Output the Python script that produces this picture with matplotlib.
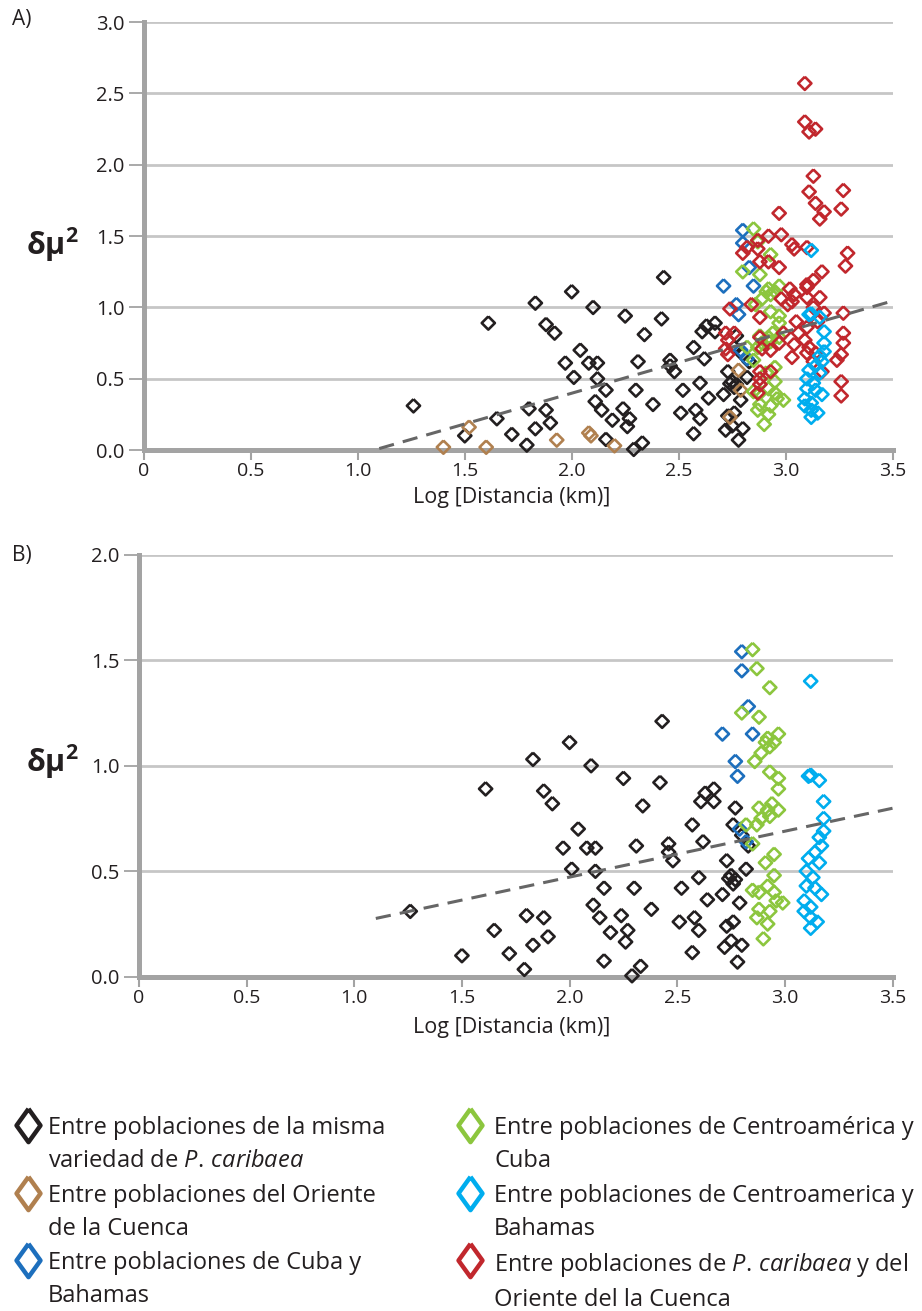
import numpy as np
import matplotlib
matplotlib.use('Agg')
import matplotlib.pyplot as plt
from matplotlib.lines import Line2D

plt.rcParams['font.family'] = ['Open Sans', 'DejaVu Sans']
plt.rcParams['mathtext.fontset'] = 'custom'
plt.rcParams['mathtext.rm'] = 'Open Sans'
plt.rcParams['mathtext.it'] = 'Open Sans:italic'
plt.rcParams['mathtext.bf'] = 'Open Sans:bold'

# ---- data: (log distance, delta mu^2) ----
black_x = [1.26, 1.50, 1.61, 1.65, 1.72, 1.79, 1.80, 1.83, 1.83, 1.88, 1.88, 1.90, 1.92,
           1.97, 2.00, 2.01, 2.04, 2.08, 2.10, 2.11, 2.12, 2.12, 2.14, 2.16, 2.16, 2.19,
           2.24, 2.25, 2.26, 2.27, 2.29, 2.30, 2.31, 2.33, 2.34, 2.38, 2.43, 2.42, 2.46,
           2.48, 2.46, 2.51, 2.52, 2.57, 2.57, 2.58, 2.60, 2.61, 2.60, 2.62, 2.64, 2.63,
           2.67, 2.67, 2.71, 2.72, 2.73, 2.73, 2.75, 2.76, 2.76, 2.77, 2.74, 2.77, 2.78,
           2.79, 2.80, 2.80, 2.82, 2.83, 2.76, 2.75]
black_y = [0.31, 0.10, 0.89, 0.22, 0.11, 0.035, 0.29, 1.03, 0.15, 0.88, 0.28, 0.19, 0.82,
           0.61, 1.11, 0.51, 0.70, 0.61, 1.00, 0.34, 0.61, 0.50, 0.28, 0.42, 0.075, 0.21,
           0.29, 0.94, 0.165, 0.22, 0.005, 0.42, 0.62, 0.05, 0.81, 0.32, 1.21, 0.92, 0.63,
           0.55, 0.59, 0.26, 0.42, 0.72, 0.115, 0.28, 0.47, 0.83, 0.22, 0.64, 0.365, 0.87,
           0.89, 0.83, 0.39, 0.14, 0.55, 0.24, 0.17, 0.26, 0.72, 0.80, 0.465, 0.46, 0.07,
           0.35, 0.15, 0.67, 0.51, 0.62, 0.44, 0.48]

brown_x = [1.40, 1.52, 1.60, 1.93, 2.08, 2.09, 2.20, 2.74, 2.79, 2.78]
brown_y = [0.02, 0.16, 0.02, 0.07, 0.12, 0.10, 0.03, 0.23, 0.42, 0.56]

blue_x = [2.80, 2.80, 2.83, 2.71, 2.85, 2.77, 2.78, 2.79, 2.82]
blue_y = [1.54, 1.45, 1.28, 1.15, 1.15, 1.02, 0.95, 0.70, 0.64]

green_x = [2.85, 2.87, 2.93, 2.80, 2.88, 2.92, 2.97, 2.91, 2.93, 2.89, 2.86, 2.95,
           2.93, 2.97, 2.97, 2.88, 2.92, 2.94, 2.97, 2.89, 2.93, 2.82, 2.87, 2.85, 2.95,
           2.91, 2.95, 2.85, 2.88, 2.92, 2.95, 2.99, 2.88, 2.93, 2.87, 2.92, 2.90, 2.96]
green_y = [1.55, 1.46, 1.37, 1.25, 1.23, 1.13, 1.15, 1.11, 1.09, 1.06, 1.02, 1.11,
           0.97, 0.94, 0.89, 0.80, 0.79, 0.82, 0.79, 0.75, 0.76, 0.72, 0.72, 0.63, 0.58,
           0.54, 0.48, 0.41, 0.40, 0.43, 0.40, 0.35, 0.32, 0.31, 0.28, 0.25, 0.18, 0.36]

cyan_x = [3.12, 3.11, 3.16, 3.18, 3.18, 3.18, 3.16, 3.17, 3.14, 3.11, 3.16, 3.10,
          3.13, 3.10, 3.14, 3.17, 3.09, 3.12, 3.09, 3.12, 3.15, 3.12, 3.12]
cyan_y = [1.40, 0.95, 0.93, 0.83, 0.75, 0.69, 0.66, 0.62, 0.59, 0.56, 0.54, 0.50,
          0.47, 0.43, 0.42, 0.39, 0.36, 0.33, 0.31, 0.28, 0.26, 0.23, 0.955]

red_x = [3.09, 3.09, 3.11, 3.14, 3.13, 3.11, 3.27, 3.14, 3.18, 3.16, 3.26, 2.97, 2.98,
         2.92, 2.87, 2.82, 2.80, 2.87, 3.03, 3.04, 3.10, 3.29, 3.28, 2.88, 2.92, 2.97,
         3.17, 3.13, 3.10, 3.02, 3.04, 3.03, 3.10, 3.16, 2.98, 3.13, 2.84, 2.74, 2.88,
         3.27, 2.72, 2.73, 2.72, 2.73, 2.76, 2.88, 2.89, 2.93, 2.99, 3.04, 3.06, 3.09,
         3.11, 3.14, 3.10, 3.27, 3.27, 3.26, 3.24, 3.13, 3.17, 2.88, 2.93, 2.88, 3.26,
         3.26, 2.87, 2.88, 3.05, 3.10, 3.01, 3.10, 2.97, 3.03, 3.15, 3.18]
red_y = [2.57, 2.30, 2.23, 2.25, 1.92, 1.81, 1.82, 1.73, 1.67, 1.62, 1.69, 1.66, 1.51,
         1.50, 1.47, 1.42, 1.38, 1.41, 1.44, 1.41, 1.42, 1.38, 1.29, 1.32, 1.32, 1.28,
         1.25, 1.19, 1.16, 1.13, 1.09, 1.04, 1.07, 1.07, 1.06, 1.00, 1.02, 0.99, 0.93,
         0.96, 0.82, 0.77, 0.71, 0.67, 0.82, 0.79, 0.71, 0.70, 0.82, 0.74, 0.82, 0.77,
         0.72, 0.68, 0.68, 0.82, 0.75, 0.67, 0.63, 0.62, 0.55, 0.55, 0.55, 0.46, 0.48,
         0.38, 0.40, 0.50, 0.90, 0.86, 1.02, 1.14, 0.75, 0.65, 0.90, 0.96]

# linear trend lines (slope, intercept) and their x range
trend_a = (0.431, -0.464)
trend_b = (0.2175, 0.0367)
trend_range = [1.1, 3.5]

xticks = [0, 0.5, 1.0, 1.5, 2.0, 2.5, 3.0, 3.5]
xticklabels = ['0', '0.5', '1.0', '1.5', '2.0', '2.5', '3.0', '3.5']

labels = ['Entre poblaciones de la misma\nvariedad de $\\mathit{P.\\,caribaea}$',
          'Entre poblaciones del Oriente\nde la Cuenca',
          'Entre poblaciones de Cuba y\nBahamas',
          'Entre poblaciones de Centroamérica y\nCuba',
          'Entre poblaciones de Centroamerica y\nBahamas',
          'Entre poblaciones de $\\mathit{P.\\,caribaea}$ y del\nOriente del la Cuenca']

C_BLACK = '#231f20'
C_BROWN = '#b0804f'
C_BLUE = '#1d6fbd'
C_GREEN = '#8cc63e'
C_CYAN = '#00adee'
C_RED = '#c1272d'
C_AXIS = '#a3a3a3'
C_GRID = '#c6c6c6'

diamond = [(0, 1), (1, 0), (0, -1), (-1, 0), (0, 1)]
tall_diamond = [(0, 1), (0.72, 0), (0, -1), (-0.72, 0), (0, 1)]

W, H = 922, 1311
fig = plt.figure(figsize=(W / 100, H / 100), dpi=100)


def style_axes(ax, ymax):
    ax.set_xlim(0, 3.5)
    ax.set_ylim(0, ymax)
    for s in ['top', 'right']:
        ax.spines[s].set_visible(False)
    for s in ['left', 'bottom']:
        ax.spines[s].set_color(C_AXIS)
        ax.spines[s].set_linewidth(3.6)
    ax.set_xticks(xticks)
    ax.set_xticklabels(xticklabels)
    yt = np.arange(0, ymax + 0.01, 0.5)
    ax.set_yticks(yt)
    ax.set_yticklabels(['%.1f' % v for v in yt])
    ax.tick_params(axis='x', direction='out', length=7, width=1.5, color=C_AXIS,
                   pad=2, labelsize=14, labelcolor=C_BLACK)
    ax.tick_params(axis='y', direction='out', length=11, width=1.3, color=C_AXIS,
                   pad=3, labelsize=14.5, labelcolor=C_BLACK)
    ax.yaxis.grid(True, color=C_GRID, linewidth=2)
    ax.set_axisbelow(True)


def scatter(ax, x, y, color):
    ax.scatter(x, y, marker=diamond, s=9.5 ** 2, facecolors='none', edgecolors=color,
               linewidths=1.9, clip_on=False, zorder=3)


def trend(ax, coef):
    tx = np.array(trend_range)
    ax.plot(tx, coef[0] * tx + coef[1], color='#666666', linewidth=2.2,
            dashes=(5, 3), zorder=4)


# ---- panel A ----
axA = fig.add_axes([144 / W, 1 - 450 / H, (892.5 - 144) / W, 428 / H])
style_axes(axA, 3.0)
scatter(axA, black_x, black_y, C_BLACK)
scatter(axA, brown_x, brown_y, C_BROWN)
scatter(axA, blue_x, blue_y, C_BLUE)
scatter(axA, green_x, green_y, C_GREEN)
scatter(axA, red_x, red_y, C_RED)
scatter(axA, cyan_x, cyan_y, C_CYAN)
trend(axA, trend_a)

# ---- panel B ----
axB = fig.add_axes([139 / W, 1 - 976.7 / H, (892.5 - 139) / W, 422.2 / H])
style_axes(axB, 2.0)
scatter(axB, black_x, black_y, C_BLACK)
scatter(axB, blue_x, blue_y, C_BLUE)
scatter(axB, green_x, green_y, C_GREEN)
scatter(axB, cyan_x, cyan_y, C_CYAN)
trend(axB, trend_b)

# ---- texts ----
fig.text(12 / W, 1 - 20 / H, 'A)', fontsize=15, color=C_BLACK, va='center')
fig.text(12 / W, 1 - 556 / H, 'B)', fontsize=15, color=C_BLACK, va='center')
for yy in [245, 762]:
    fig.text(52 / W, 1 - yy / H, 'δμ$^{\\mathbf{2}}$', fontsize=22, fontweight='bold',
             color=C_BLACK, ha='center', va='center')
for yy in [497, 1028]:
    fig.text(512 / W, 1 - yy / H, 'Log [Distancia (km)]', fontsize=15.5,
             color=C_BLACK, ha='center', va='center')

# ---- legend ----
leg_colors = [C_BLACK, C_BROWN, C_BLUE, C_GREEN, C_CYAN, C_RED]
col_marker_x = [28, 470]
col_text_x = [48, 494]
row_y = [1127, 1195, 1262]
for i, (lab, col) in enumerate(zip(labels, leg_colors)):
    c, r = divmod(i, 3)
    y = row_y[r] - 2
    fig.add_artist(Line2D([col_marker_x[c] / W], [1 - y / H], marker=tall_diamond,
                          markersize=24, markerfacecolor='none', markeredgecolor=col,
                          markeredgewidth=3.2, linestyle='none',
                          transform=fig.transFigure))
    fig.text(col_text_x[c] / W, 1 - (row_y[r] - 11) / H, lab, fontsize=17,
             color=C_BLACK, va='top', ha='left', linespacing=1.5)

fig.savefig('out.png', dpi=100)
